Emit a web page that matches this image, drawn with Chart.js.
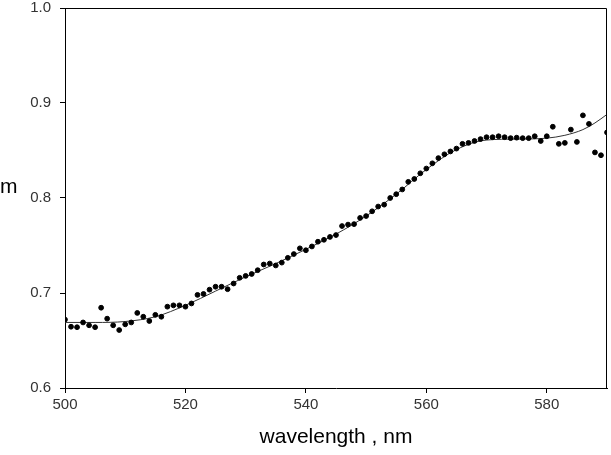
<!DOCTYPE html>
<html>
<head>
<meta charset="utf-8">
<script src="https://cdn.jsdelivr.net/npm/chart.js@4/dist/chart.umd.min.js"></script>
<style>
  html, body { margin: 0; padding: 0; background: #fff; }
  #chart { display: block; }
</style>
</head>
<body>
<canvas id="chart" width="611" height="455"></canvas>
<script>
// measured points, wavelength (nm) vs m
const wavelengths = [
  500, 501, 502, 503, 504, 505, 506, 507, 508, 509,
  510, 511, 512, 513, 514, 515, 516, 517, 518, 519,
  520, 521, 522, 523, 524, 525, 526, 527, 528, 529,
  530, 531, 532, 533, 534, 535, 536, 537, 538, 539,
  540, 541, 542, 543, 544, 545, 546, 547, 548, 549,
  550, 551, 552, 553, 554, 555, 556, 557, 558, 559,
  560, 561, 562, 563, 564, 565, 566, 567, 568, 569,
  570, 571, 572, 573, 574, 575, 576, 577, 578, 579,
  580, 581, 582, 583, 584, 585, 586, 587, 588, 589,
  590
];
const mValues = [
  0.672, 0.6645, 0.664, 0.669, 0.666, 0.664, 0.6845, 0.673, 0.666, 0.661,
  0.667, 0.669, 0.679, 0.675, 0.6705, 0.677, 0.675, 0.6856, 0.687, 0.687,
  0.6856, 0.689, 0.698, 0.699, 0.7035, 0.7066, 0.7066, 0.704, 0.710, 0.716,
  0.718, 0.720, 0.724, 0.730, 0.731, 0.729, 0.732, 0.737, 0.741, 0.747,
  0.745, 0.749, 0.754, 0.756, 0.759, 0.761, 0.7705, 0.772, 0.7725, 0.779,
  0.781, 0.786, 0.791, 0.793, 0.800, 0.804, 0.809, 0.817, 0.820, 0.826,
  0.831, 0.8365, 0.842, 0.846, 0.849, 0.852, 0.857, 0.858, 0.860, 0.862,
  0.864, 0.864, 0.865, 0.864, 0.863, 0.8635, 0.863, 0.863, 0.865, 0.860,
  0.865, 0.875, 0.857, 0.858, 0.872, 0.859, 0.887, 0.878, 0.848, 0.845,
  0.869
];

// smooth fitted curve
const fitX = [500, 505, 510, 515, 520, 525, 530, 535, 540, 545, 550, 555, 560, 565, 570, 575, 580, 583, 586, 588, 590];
const fitY = [0.669, 0.669, 0.670, 0.675, 0.687, 0.702, 0.717, 0.731, 0.746, 0.762, 0.781, 0.804, 0.830, 0.851, 0.861, 0.862, 0.863, 0.866, 0.872, 0.879, 0.888];

const xTicks = [500, 520, 540, 560, 580];
const yTicks = [0.6, 0.7, 0.8, 0.9, 1.0];

const font = "'Liberation Sans', Arial, sans-serif";

// box on top and right, and the horizontal "m" label
const framePlugin = {
  id: "frame",
  afterDraw( chart )
  {
    const { ctx, chartArea: a } = chart;
    ctx.save();
    ctx.strokeStyle = "#000";
    ctx.lineWidth = 1;
    ctx.beginPath();
    ctx.moveTo( Math.round( a.left ) + 0.5, Math.round( a.top ) + 0.5 );
    ctx.lineTo( Math.round( a.right ) - 0.5, Math.round( a.top ) + 0.5 );
    ctx.lineTo( Math.round( a.right ) - 0.5, Math.round( a.bottom ) );
    ctx.stroke();
    ctx.fillStyle = "#000";
    ctx.font = "21px " + font;
    ctx.textBaseline = "alphabetic";
    ctx.textAlign = "left";
    ctx.fillText( "m", 0, 193 );
    ctx.restore();
  }
};

new Chart( document.getElementById( "chart" ), {
  type: "scatter",
  data: {
    datasets: [
      {
        label: "m",
        data: wavelengths.map( ( w, i ) => ({ x: w, y: mValues[i] }) ),
        backgroundColor: "#000",
        borderColor: "#000",
        pointRadius: 2.4,
        pointHoverRadius: 2.4,
        order: 0
      },
      {
        label: "fit",
        data: fitX.map( ( w, i ) => ({ x: w, y: fitY[i] }) ),
        showLine: true,
        borderColor: "#333",
        borderWidth: 1,
        pointRadius: 0,
        cubicInterpolationMode: "monotone",
        order: 1
      }
    ]
  },
  options: {
    responsive: false,
    animation: false,
    layout: { padding: { top: 8, right: 4, left: 0, bottom: 0 } },
    plugins: {
      legend: { display: false },
      tooltip: { enabled: false }
    },
    scales: {
      x: {
        type: "linear",
        min: 500,
        max: 590,
        afterBuildTicks: s => { s.ticks = xTicks.map( v => ({ value: v }) ); },
        afterFit: s => { s.height = 67; s.paddingLeft = 0; s.paddingRight = 0; },
        grid: { drawOnChartArea: false, drawTicks: true, tickLength: 5, tickColor: "#000" },
        border: { display: true, color: "#000", width: 1 },
        ticks: { color: "#333", padding: 3, font: { family: font, size: 15 } },
        title: {
          display: true,
          text: "wavelength , nm",
          color: "#000",
          font: { family: font, size: 21 },
          padding: { top: 0, bottom: 5 }
        }
      },
      y: {
        type: "linear",
        min: 0.6,
        max: 1.0,
        afterBuildTicks: s => { s.ticks = yTicks.map( v => ({ value: v }) ); },
        afterFit: s => { s.width = 65; s.paddingTop = 0; s.paddingBottom = 0; },
        grid: { drawOnChartArea: false, drawTicks: true, tickLength: 5, tickColor: "#000" },
        border: { display: true, color: "#000", width: 1 },
        ticks: {
          color: "#333",
          padding: 9,
          font: { family: font, size: 15 },
          callback: v => v.toFixed( 1 )
        }
      }
    }
  },
  plugins: [ framePlugin ]
});
</script>
</body>
</html>
